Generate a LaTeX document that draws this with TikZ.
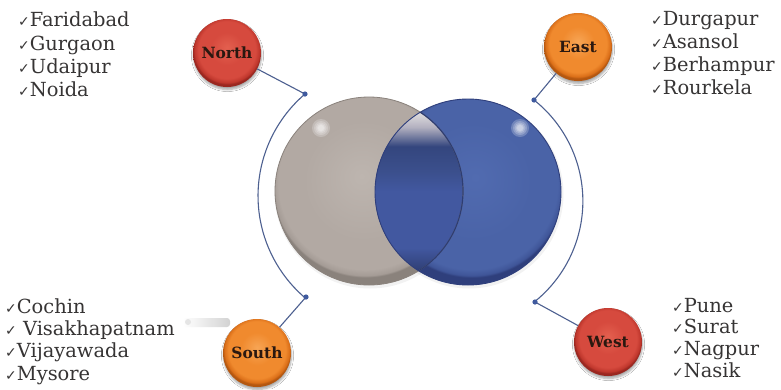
\documentclass[tikz,border=0pt]{standalone}
\usepackage{fontspec}
\setmainfont{DejaVu Serif}
\newfontfamily\ckfont{DejaVu Sans}
\usetikzlibrary{shadows.blur}

\definecolor{txt}{HTML}{363434}
\definecolor{lbl}{HTML}{2A1810}
\definecolor{conn}{HTML}{4D6090}
\definecolor{dotc}{HTML}{3F5A9E}
% red ball
\definecolor{redC}{HTML}{E3604F}
\definecolor{redM}{HTML}{D64A3E}
\definecolor{redE}{HTML}{BE362C}
\definecolor{redR}{HTML}{9A2720}
% orange ball
\definecolor{orC}{HTML}{F7A555}
\definecolor{orM}{HTML}{F08A2E}
\definecolor{orE}{HTML}{DA6E18}
\definecolor{orR}{HTML}{B45710}
% gray venn
\definecolor{grC}{HTML}{BDB5AF}
\definecolor{grM}{HTML}{B2A9A3}
\definecolor{grE}{HTML}{A59C96}
\definecolor{grR}{HTML}{8A827C}
% blue venn
\definecolor{blC}{HTML}{516BB0}
\definecolor{blM}{HTML}{4A63A7}
\definecolor{blE}{HTML}{3F5598}
\definecolor{blR}{HTML}{2F3F7C}
% lens
\definecolor{lnT}{HTML}{E6E2E2}
\definecolor{lnL}{HTML}{B3B1C0}
\definecolor{lnD}{HTML}{34467E}
\definecolor{lnD2}{HTML}{3B4F8C}
\definecolor{lnM}{HTML}{4258A0}
\definecolor{lnB}{HTML}{2E3D72}

\pgfdeclareradialshading{redball}{\pgfpoint{0bp}{4bp}}{color(0bp)=(redC); color(12bp)=(redM); color(21bp)=(redM); color(24bp)=(redE); color(25bp)=(redR); color(50bp)=(redR)}
\pgfdeclareradialshading{orball}{\pgfpoint{0bp}{4bp}}{color(0bp)=(orC); color(12bp)=(orM); color(21bp)=(orM); color(24bp)=(orE); color(25bp)=(orR); color(50bp)=(orR)}
\pgfdeclareradialshading{grayball}{\pgfpoint{-2bp}{4bp}}{color(0bp)=(grC); color(16bp)=(grM); color(23bp)=(grM); color(24.5bp)=(grE); color(25bp)=(grR); color(50bp)=(grR)}
\pgfdeclareradialshading{blueball}{\pgfpoint{2bp}{4bp}}{color(0bp)=(blC); color(16bp)=(blM); color(23bp)=(blM); color(24.5bp)=(blE); color(25bp)=(blR); color(50bp)=(blR)}
\pgfdeclareverticalshading{lens}{100bp}{color(0bp)=(lnB); color(25bp)=(lnB); color(32.5bp)=(lnM); color(50bp)=(lnM); color(56.5bp)=(lnD2); color(64bp)=(lnD); color(70bp)=(lnL); color(75bp)=(lnT); color(100bp)=(lnT)}

\newcommand{\ck}{{\ckfont\fontsize{14}{14}\selectfont ✓}}

\tikzset{
  region/.style={circle, minimum size=68bp, inner sep=0pt, shade,
    font=\fontsize{15.5}{16}\selectfont\bfseries, text=lbl,
    blur shadow={shadow xshift=0.5pt, shadow yshift=-2.5pt, shadow blur steps=6, shadow opacity=35}},
  item/.style={anchor=base west, inner sep=0pt, text=txt,
    font=\fontsize{19.5}{23}\selectfont},
  connline/.style={draw=conn, line width=1.1bp},
  dotmark/.style={fill=dotc},
  glow/.style={fill=white, opacity=0.22},
}

\begin{document}
\begin{tikzpicture}[x=1bp, y=-1bp]
\useasboundingbox (0,0) rectangle (781,389);
\fill[white] (0,0) rectangle (781,389);

% ---------- Venn circles ----------
\fill[black, opacity=0.05] (370,193) circle[radius=95.5];
\fill[black, opacity=0.05] (469,194) circle[radius=94.5];
\shade[shading=grayball] (369,191) circle[radius=94];
\shade[shading=blueball] (468,192) circle[radius=93];
\begin{scope}
  \clip (369,191) circle[radius=94];
  \clip (468,192) circle[radius=93];
  \shade[shading=lens] (370,111) rectangle (470,272);
\end{scope}
\draw[grR, line width=0.8bp] (369,191) circle[radius=94];
\draw[blR, line width=0.9bp] (468,192) circle[radius=93];
\begin{scope}
  \clip (468,192) circle[radius=93];
  \draw[lnB, line width=1.2bp] (369,191) circle[radius=94];
\end{scope}
% highlights
\foreach \r in {9,7,5.5,4,3} {
  \fill[glow] (321,128) circle[radius=\r];
  \fill[glow] (520,128) circle[radius=\r];
}

% ---------- smear near South ----------
\shade[left color=white, right color=gray!35, rounded corners=3bp] (183,318) rectangle (230,327);
\fill[gray!20] (188,322) circle[radius=3];

% ---------- region circles ----------
\node[region, shading=redball] (north) at (227,53) {North};
\node[region, shading=orball]  (east)  at (578,47) {East};
\node[region, shading=orball]  (south) at (257,353) {South};
\node[region, shading=redball] (west)  at (608,342) {West};

% ---------- connectors ----------
\coordinate (dN) at (305,94);
\coordinate (dS) at (306,297);
\coordinate (dE) at (534,100);
\coordinate (dW) at (535,302);

\draw[connline] (north) -- (dN);
\draw[connline] (south) -- (dS);
\draw[connline] (east) -- (dE);
\draw[connline] (west) -- (dW);
\draw[connline] (dN) arc[start angle=229.5, end angle=130, radius=134];
\draw[connline] (dE) arc[start angle=-51.6, end angle=51.6, radius=129];

\fill[dotmark] (dN) circle[radius=2.6];
\fill[dotmark] (dS) circle[radius=2.6];
\fill[dotmark] (dE) circle[radius=2.6];
\fill[dotmark] (dW) circle[radius=2.6];

% ---------- lists ----------
\node[item] (n1) at (18,26) {\ck Faridabad};
\node[item] (n2) at (18,50) {\ck Gurgaon};
\node[item] (n3) at (18,73) {\ck Udaipur};
\node[item] (n4) at (18,96) {\ck Noida};

\node[item] (e1) at (651,25) {\ck Durgapur};
\node[item] (e2) at (651,48) {\ck Asansol};
\node[item] (e3) at (651,71) {\ck Berhampur};
\node[item] (e4) at (651,94) {\ck Rourkela};

\node[item] (s1) at (5,313) {\ck Cochin};
\node[item] (s2) at (5,335) {\ck{} Visakhapatnam};
\node[item] (s3) at (5,357) {\ck Vijayawada};
\node[item] (s4) at (5,380) {\ck Mysore};

\node[item] (w1) at (672,312) {\ck Pune};
\node[item] (w2) at (672,333) {\ck Surat};
\node[item] (w3) at (672,355) {\ck Nagpur};
\node[item] (w4) at (672,377) {\ck Nasik};
\end{tikzpicture}
\end{document}
